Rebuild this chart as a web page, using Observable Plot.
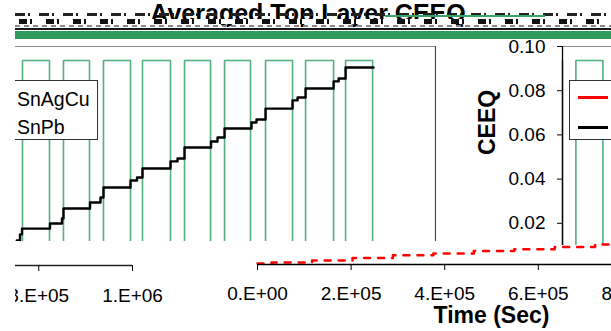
<!DOCTYPE html>
<html><head><meta charset="utf-8">
<script src="https://cdn.jsdelivr.net/npm/d3@7"></script>
<script src="https://cdn.jsdelivr.net/npm/@observablehq/plot@0.6"></script>
<style>
html,body{margin:0;padding:0;background:#fff;}
#wrap{position:relative;width:611px;height:331px;overflow:hidden;background:#fff;font-family:"Liberation Sans",Arial,sans-serif;}
.clip{position:absolute;overflow:hidden;}
.clip svg{position:absolute;}
.hd{position:absolute;}
</style></head><body><div id="wrap"></div>
<script>
// ---------- data ----------
const titleText = "Averaged Top Layer CEEQ";
const xLabel = "Time (Sec)";
const yLabel = "CEEQ";
const seriesNames = ["SnAgCu", "SnPb"];
const seriesColors = ["#ff0000", "#000000"];

// SnPb averaged CEEQ (time in s)
const snPbTime = [13700, 16450, 23300, 27560, 87400, 113000, 116200, 172900, 195300, 201700, 259400, 273300, 285000, 344900, 359800, 374800, 431400, 445300, 460300, 517900, 528600, 547900, 605600, 616300, 633400, 693300, 704000, 718900, 778600];
const snPbCEEQ = [0.0110, 0.0122, 0.0150, 0.0176, 0.0199, 0.0222, 0.0267, 0.0294, 0.0317, 0.0362, 0.0394, 0.0407, 0.0448, 0.0480, 0.0493, 0.0543, 0.0570, 0.0588, 0.0629, 0.0656, 0.0670, 0.0719, 0.0756, 0.0769, 0.0810, 0.0842, 0.0855, 0.0905, 0.0905];

// SnAgCu averaged CEEQ (time in s)
const snAgCuTime = [0, 30000, 116600, 203000, 289400, 375800, 462200, 548600, 635000, 721400, 777600];
const snAgCuCEEQ = [0.0005, 0.0009, 0.0018, 0.0030, 0.0042, 0.0050, 0.0062, 0.0070, 0.0080, 0.0092, 0.0095];

// thermal cycle (temperature profile) switching times, s
const riseTimes = [28600, 116200, 201700, 285000, 374800, 460300, 547900, 633400, 718900];
const fallTimes = [86300, 171800, 259400, 344900, 430400, 515800, 605600, 693300, 776600];
const tempHigh = 125, tempLow = -55;

const xTicks = [0, 200000, 400000, 600000, 800000, 1000000];
const xTickLabels = ["0.E+00", "2.E+05", "4.E+05", "6.E+05", "8.E+05", "1.E+06"];
const yTicks = [0.02, 0.04, 0.06, 0.08, 0.10];
const yTickLabels = ["0.02", "0.04", "0.06", "0.08", "0.10"];
const xMaxFull = 1000000;
const xMaxPanel = 911000;

// ---------- tables ----------
const snPb = snPbTime.map((t, i) => ({t, v: snPbCEEQ[i]}));
const snAgCu = snAgCuTime.map((t, i) => ({t, v: snAgCuCEEQ[i]}));
const tempProfile = [{t: 0, T: tempHigh}, {t: 0, T: tempLow}];
riseTimes.forEach((r, i) => {
  tempProfile.push({t: r, T: tempLow}, {t: r, T: tempHigh}, {t: fallTimes[i], T: tempHigh}, {t: fallTimes[i], T: tempLow});
});
tempProfile.push({t: xMaxFull, T: tempLow});
const xLabelMap = new Map(xTicks.map((d, i) => [d, xTickLabels[i]]));
const yLabelMap = new Map(yTicks.map((d, i) => [d, yTickLabels[i]]));

// ---------- helpers ----------
const FONT = '"Liberation Sans", Arial, sans-serif';
const GREEN = "#52b07f";
const wrap = document.getElementById("wrap");
function clip(left, top, w, h) {
  const d = document.createElement("div");
  d.className = "clip";
  Object.assign(d.style, {left: left + "px", top: top + "px", width: w + "px", height: h + "px"});
  d._l = left; d._t = top;
  wrap.appendChild(d);
  return d;
}
function put(container, svg, pageLeft = 0, pageTop = 0) {
  svg.style.left = (pageLeft - container._l) + "px";
  svg.style.top = (pageTop - container._t) + "px";
  container.appendChild(svg);
}
function mk(opts) {
  return Plot.plot({...opts, style: {background: "transparent", maxWidth: "none", overflow: "visible", fontFamily: FONT, color: "#000"}});
}
function legend(container, pageLeft, pageTop) {
  const box = document.createElement("div");
  Object.assign(box.style, {position: "absolute", left: (pageLeft - container._l) + "px", top: (pageTop - container._t) + "px",
    width: "124px", height: "60px", border: "1px solid #333", background: "#fff", boxSizing: "border-box"});
  seriesNames.forEach((name, i) => {
    const ln = document.createElement("div");
    Object.assign(ln.style, {position: "absolute", left: "8px", width: "30px", top: (15 + 30 * i) + "px", height: "2.5px", background: seriesColors[i]});
    const tx = document.createElement("div");
    tx.textContent = name;
    Object.assign(tx.style, {position: "absolute", left: "42px", top: (7.5 + 28 * i) + "px", fontSize: "19.5px", lineHeight: "20px", color: "#000", whiteSpace: "nowrap", fontFamily: FONT});
    box.appendChild(ln); box.appendChild(tx);
  });
  container.appendChild(box);
}
function tempLayer(width, left, right, dmax) {
  return mk({width, height: 331, marginLeft: left, marginRight: width - right, marginTop: 60, marginBottom: 31,
    x: {domain: [0, dmax], axis: null}, y: {domain: [tempLow, tempHigh], axis: null},
    marks: [Plot.line(tempProfile, {x: "t", y: "T", stroke: GREEN, strokeWidth: 1.6})]});
}

// ---------- panel A (plot area fragment) ----------
const A = clip(15, 40, 421, 201);
put(A, tempLayer(611, 8.6, 435, xMaxPanel));
put(A, mk({width: 611, height: 331, marginLeft: 8.6, marginRight: 176, marginTop: 46, marginBottom: 64,
  x: {domain: [0, xMaxPanel], axis: null}, y: {domain: [0, 0.1], axis: null},
  marks: [
    Plot.ruleY([0.1], {stroke: "#8c8c8c", strokeWidth: 1.2}),
    Plot.ruleX([xMaxPanel], {stroke: "#444", strokeWidth: 1.2}),
    Plot.line(snAgCu, {x: "t", y: "v", stroke: seriesColors[0], strokeWidth: 2, curve: "step-after"}),
    Plot.line(snPb, {x: "t", y: "v", stroke: seriesColors[1], strokeWidth: 2.4, curve: "step-after"})
  ]}));
legend(A, -26, 80);

// ---------- panel D (y axis fragment) ----------
const D = clip(436, 40, 175, 205);
put(D, tempLayer(1040, 562, 1030, xMaxFull));
put(D, mk({width: 1040, height: 331, marginLeft: 562, marginRight: 10, marginTop: 46, marginBottom: 64,
  x: {domain: [0, xMaxFull], axis: null}, y: {domain: [0, 0.1]},
  marks: [
    Plot.ruleY([0.1], {stroke: "#8c8c8c", strokeWidth: 1.2}),
    Plot.ruleX([0], {stroke: "#000", strokeWidth: 1.3}),
    Plot.axisY(yTicks, {anchor: "left", tickSize: 5, tickPadding: 12, fontSize: 19, tickFormat: d => yLabelMap.get(d), label: null}),
    Plot.text([yLabel], {text: d => d, frameAnchor: "left", dx: -75, dy: -2, rotate: -90, fontSize: 23, fontWeight: "bold"})
  ]}));
legend(D, 569, 80);

// ---------- panel B (x axis fragment, left) ----------
const B = clip(15, 241, 152, 90);
put(B, mk({width: 542, height: 331, marginLeft: 63.2, marginRight: 10, marginTop: 46, marginBottom: 66,
  x: {domain: [0, xMaxFull]}, y: {domain: [0, 0.1], axis: null},
  marks: [
    Plot.ruleY([0], {stroke: "#222", strokeWidth: 1.5}),
    Plot.axisX(xTicks, {anchor: "bottom", tickSize: 6, tickPadding: 16.5, fontSize: 19, tickFormat: d => xLabelMap.get(d), label: null})
  ]}), -400, 0);

// ---------- panel C (x axis fragment, right) ----------
const C = clip(167, 241, 444, 90);
put(C, mk({width: 760, height: 331, marginLeft: 257, marginRight: 35, marginTop: 46, marginBottom: 67,
  x: {domain: [0, xMaxFull]}, y: {domain: [0, 0.1], axis: null},
  marks: [
    Plot.line(snAgCu, {x: "t", y: "v", stroke: seriesColors[0], strokeWidth: 2.5, curve: "step-after", strokeDasharray: "6,8"}),
    Plot.ruleY([0], {stroke: "#000", strokeWidth: 1.5}),
    Plot.axisX(xTicks, {anchor: "bottom", tickSize: 6, tickPadding: 16, fontSize: 19, tickFormat: d => xLabelMap.get(d), label: null}),
    Plot.text([xLabel], {text: d => d, frameAnchor: "bottom", dy: 51.5, lineAnchor: "middle", fontSize: 23, fontWeight: "bold"})
  ]}));

// ---------- title strip ----------
function hd(css) { const d = document.createElement("div"); d.className = "hd"; Object.assign(d.style, css); wrap.appendChild(d); return d; }
const t = hd({left: "0px", top: "1px", width: "616px", textAlign: "center", fontSize: "25px", fontWeight: "bold", lineHeight: "25px", color: "#000", fontFamily: FONT, whiteSpace: "nowrap"});
t.textContent = titleText;
hd({left: "15px", top: "13px", width: "596px", height: "3px", background: "repeating-linear-gradient(90deg,#222 0 10px,transparent 10px 13px,#222 13px 15px,transparent 15px 24px)"});
hd({left: "15px", top: "19px", width: "596px", height: "5px", background: "repeating-linear-gradient(90deg,#fff 0 4px,#111 4px 12px,#fff 12px 15px,#111 15px 17px,#fff 17px 27px)"});
hd({left: "15px", top: "25px", width: "596px", height: "2px", background: "repeating-linear-gradient(90deg,#888 0 5px,transparent 5px 9px)"});
hd({left: "385px", top: "15px", width: "160px", height: "2px", background: "#3aa36a"});
hd({left: "15px", top: "28px", width: "596px", height: "2px", background: "#1a1a1a"});
hd({left: "15px", top: "31px", width: "596px", height: "8px", background: "#2f9a5c"});
</script></body></html>
